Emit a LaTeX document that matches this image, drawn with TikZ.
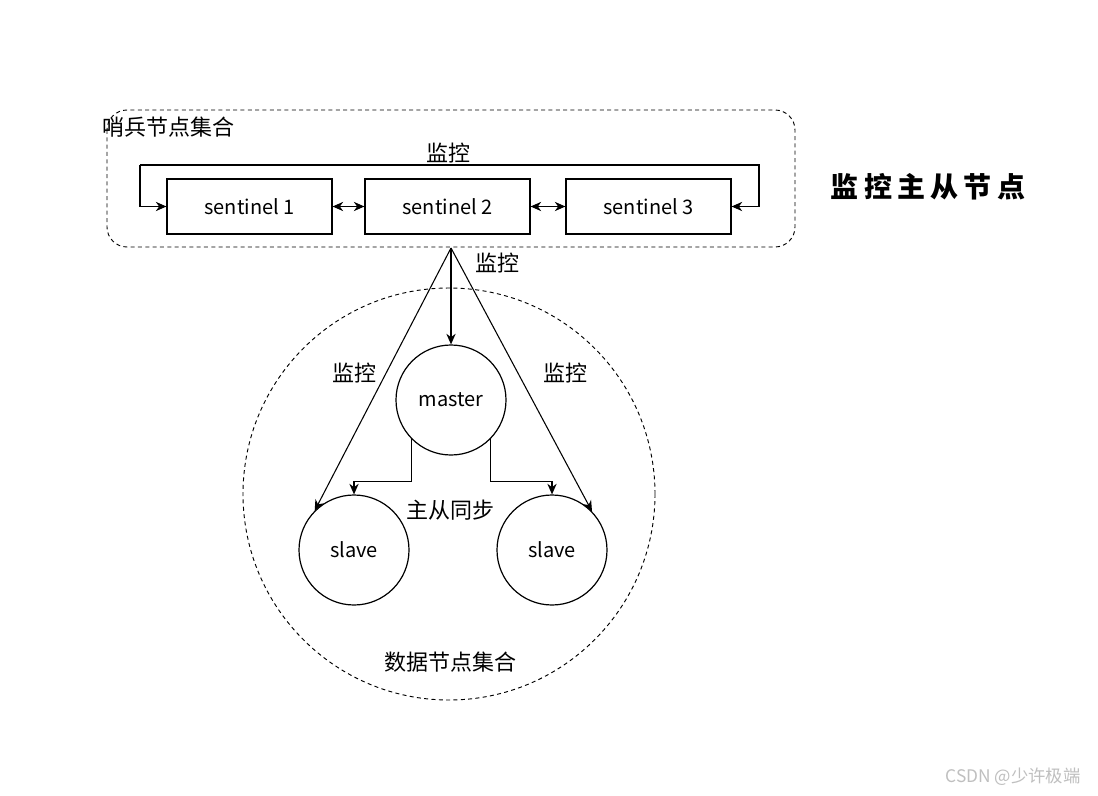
\documentclass[tikz,border=0pt]{standalone}
\usepackage{fontspec}
\setmainfont{Noto Sans CJK SC}
\newfontfamily\titlefont{Noto Sans CJK SC}
\usetikzlibrary{arrows.meta,calc}
\tikzset{
  box/.style={draw, line width=0.9pt, minimum width=123.75pt, minimum height=41.25pt, inner sep=0pt, font=\fontsize{15}{17}\selectfont},
  ball/.style={draw, circle, line width=0.9pt, minimum size=82.5pt, inner sep=0pt, font=\fontsize{15}{17}\selectfont},
  lbl/.style={font=\fontsize{16.5}{19}\selectfont, inner sep=0pt},
  conn/.style={line width=0.8pt, -{Stealth[length=8pt,width=7pt]}},
  dconn/.style={line width=0.8pt, {Stealth[length=8pt,width=7pt]}-{Stealth[length=8pt,width=7pt]}},
  grp/.style={line width=0.7pt, dash pattern=on 3pt off 2.5pt}
}
\begin{document}
\begin{tikzpicture}[x=0.75pt,y=-0.75pt]
\useasboundingbox[fill=white] (0,0) rectangle (1098,795);
% sentinel group
\draw[grp, rounded corners=15pt] (107,110) rectangle (795,247);
\node[lbl, anchor=west] (sgl) at (102,127) {哨兵节点集合};
\node[box] (s1) at (249.5,206.5) {sentinel 1};
\node[box] (s2) at (447.5,206.5) {sentinel 2};
\node[box] (s3) at (648.5,206.5) {sentinel 3};
\draw[dconn] (s1) -- (s2);
\draw[dconn] (s2) -- (s3);
\coordinate (tl) at (140,165);
\coordinate (tr) at (759,165);
\draw[conn] (tl) -- (tr) |- (s3.east);
\draw[conn] (tl) |- (s1.west);
\node[lbl] (l0) at (448,153) {监控};
% data group
\draw[grp] (449,494) circle[radius=154.5pt];
\node[ball] (m) at (451,400) {master};
\node[ball] (a) at (354,550) {slave};
\node[ball] (b) at (552,550) {slave};
\coordinate (mon) at (451,248);
\draw[conn] (mon) -- (m.north);
\draw[conn] (mon) -- (a.135);
\draw[conn] (mon) -- (b.44);
\node[lbl] (l1) at (497,263) {监控};
\node[lbl] (l2) at (354,373) {监控};
\node[lbl] (l3) at (565,373) {监控};
\draw[conn] (m.-135) -- ++(0,42) -| (a.north);
\draw[conn] (m.-45) -- ++(0,42) -| (b.north);
\node[lbl] (l4) at (450,510) {主从同步};
\node[lbl] (l5) at (450,662) {数据节点集合};
% title
\node[font=\titlefont\fontsize{21}{25}\selectfont\bfseries, inner sep=0pt] (t) at (928,187) {监\kern4pt 控\kern4pt 主\kern4pt 从\kern4pt 节\kern4pt 点};
% watermark
\node[font=\fontsize{13}{15}\selectfont, text=black!25, inner sep=0pt] (w) at (1013,777) {CSDN @少许极端};
\end{tikzpicture}
\end{document}
